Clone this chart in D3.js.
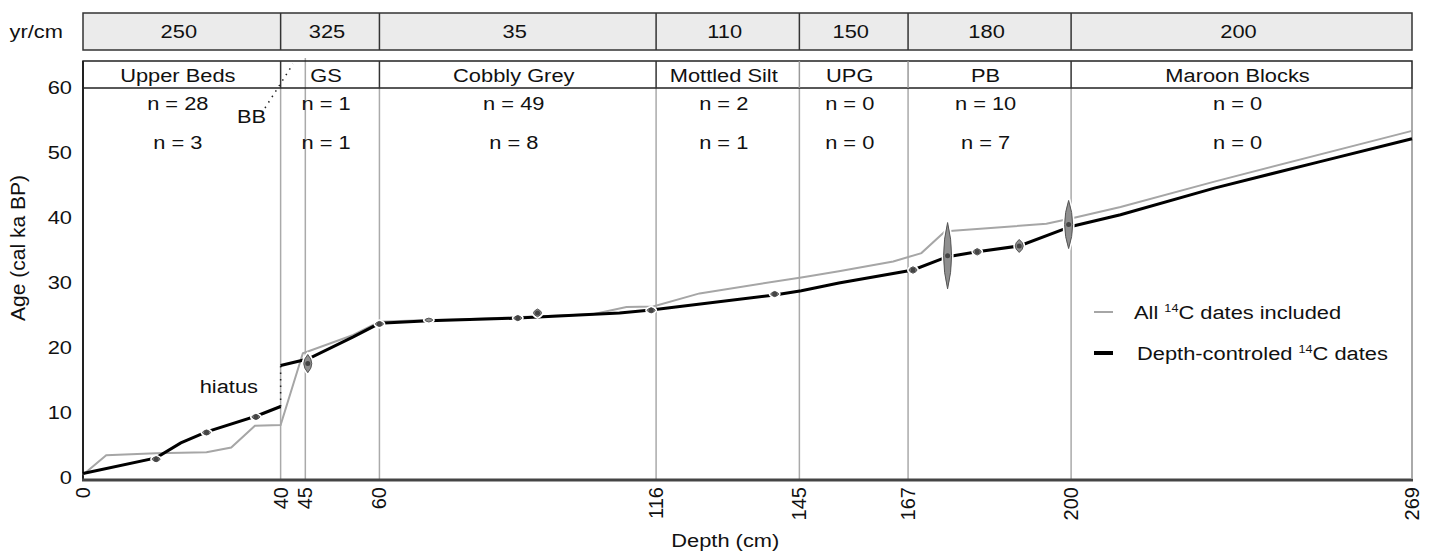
<!DOCTYPE html>
<html>
<head>
<meta charset="utf-8">
<script src="https://cdn.jsdelivr.net/npm/d3@7"></script>
<style>
body{margin:0;background:#fff}
text{font-family:"Liberation Sans",Arial,sans-serif;fill:#111}
</style>
</head>
<body>
<svg id="chart" width="1432" height="554"></svg>
<script>
// stratigraphic units (depth bounds in cm)
var bounds = [0, 40, 60, 116, 145, 167, 200, 269];
var rates = ["250", "325", "35", "110", "150", "180", "200"]; // yr/cm
var units = ["Upper Beds", "GS", "Cobbly Grey", "Mottled Silt", "UPG", "PB", "Maroon Blocks"];
var nAll = [28, 1, 49, 2, 0, 10, 0];
var nCtrl = [3, 1, 8, 1, 0, 7, 0];
var depthTicks = [0, 40, 45, 60, 116, 145, 167, 200, 269];
var gridDepths = [40, 45, 60, 116, 145, 167, 200];
var ageTicks = [0, 10, 20, 30, 40, 50, 60];

// age-depth model, all 14C dates (depth cm, age ka)
var allDepth = [0, 4.7, 14.8, 25, 30, 34.8, 40, 44.5, 54.7, 60, 70, 76, 103.2, 110, 115.4, 124.8, 145.7, 153, 164, 169.7, 174.4, 176.1, 195, 200.4, 210, 229, 269];
var allAge   = [0.5, 3.5, 3.8, 3.95, 4.7, 8.05, 8.15, 19.2, 22, 24.05, 24.3, 24.4, 25.2, 26.3, 26.4, 28.4, 30.9, 31.8, 33.3, 34.6, 37.9, 38.05, 39.1, 40, 41.7, 45.6, 53.4];
// depth-controlled model, above and below the hiatus
var upDepth = [0, 14.8, 19.8, 25, 35, 40];
var upAge   = [0.7, 3.1, 5.4, 7.1, 9.5, 11.0];
var lowDepth = [40, 45.5, 54.7, 60, 70, 88, 108.6, 115, 140, 145.4, 153, 168, 175, 181, 189.5, 200, 210, 229, 250, 269];
var lowAge   = [17.3, 18.3, 21.7, 23.8, 24.2, 24.6, 25.4, 25.85, 28.15, 28.8, 30.0, 32.0, 34.05, 34.8, 35.7, 38.7, 40.5, 44.6, 48.6, 52.2];
// calibrated dates (depth, median age, half range ka)
var dateDepth = [14.8, 25, 35, 45.5, 60, 70, 88, 92, 115, 140, 168, 175, 181, 189.5, 199.5];
var dateAge   = [2.9, 7.0, 9.4, 17.6, 23.7, 24.3, 24.6, 25.4, 25.8, 28.3, 32.0, 34.2, 34.8, 35.7, 39.0];
var dateErr   = [0.4, 0.4, 0.4, 1.4, 0.4, 0.3, 0.4, 0.6, 0.4, 0.4, 0.5, 5.1, 0.5, 1.0, 3.7];

var svg = d3.select("#chart");
var x = d3.scaleLinear().domain([0, 269]).range([83, 1412]);
var y = d3.scaleLinear().domain([0, 60]).range([478, 88]);
var fs = 19, sx = 1.15;

function label(g, px, py, str, anchor, size) {
  return g.append("text")
    .attr("transform", "translate(" + px + "," + py + ") scale(" + sx + ",1)")
    .attr("text-anchor", anchor || "middle")
    .style("font-size", (size || fs) + "px")
    .text(str);
}

var zones = d3.range(units.length).map(function(i) {
  return {a: bounds[i], b: bounds[i + 1], rate: rates[i], unit: units[i], n1: nAll[i], n2: nCtrl[i]};
});

// vertical grid lines
svg.append("g").selectAll("line").data(gridDepths).enter().append("line")
  .attr("x1", d => x(d)).attr("x2", d => x(d))
  .attr("y1", d => d == 45 ? 58 : y(60)).attr("y2", y(0) + 2)
  .attr("stroke", "#aaa").attr("stroke-width", 1.5);
svg.append("line").attr("x1", x(269)).attr("x2", x(269)).attr("y1", y(60)).attr("y2", y(0))
  .attr("stroke", "#aaa").attr("stroke-width", 2);

// yr/cm header
var top1 = 13, bot1 = 50, top2 = 61;
var hdr = svg.append("g");
hdr.append("rect").attr("x", x(0)).attr("y", top1).attr("width", x(269) - x(0)).attr("height", bot1 - top1)
  .attr("fill", "#ebebeb").attr("stroke", "#333").attr("stroke-width", 1.5);
hdr.selectAll("line.d1").data(bounds.slice(1, -1)).enter().append("line")
  .attr("x1", d => x(d)).attr("x2", d => x(d)).attr("y1", top1).attr("y2", bot1)
  .attr("stroke", "#333").attr("stroke-width", 1.5);
zones.forEach(function(z) { label(hdr, (x(z.a) + x(z.b)) / 2 - 3, 38, z.rate); });
label(hdr, 63, 38, "yr/cm", "end");

// unit header
hdr.append("rect").attr("x", x(0)).attr("y", top2).attr("width", x(269) - x(0)).attr("height", y(60) - top2)
  .attr("fill", "none").attr("stroke", "#222").attr("stroke-width", 1.5);
hdr.selectAll("line.d2").data(bounds.slice(1, -1)).enter().append("line")
  .attr("x1", d => x(d)).attr("x2", d => x(d)).attr("y1", top2).attr("y2", y(60))
  .attr("stroke", d => (d == 145 || d == 167) ? "#999" : "#333").attr("stroke-width", 1.5);
zones.forEach(function(z) {
  var cx = (x(z.a) + x(z.b)) / 2 - 4;
  label(hdr, cx, 82, z.unit);
  label(hdr, cx, 110, "n = " + z.n1);
  label(hdr, cx, 149, "n = " + z.n2);
});

// BB bed and hiatus markers
label(svg, 237, 123, "BB", "start");
svg.append("line").attr("x1", 265).attr("y1", 108).attr("x2", x(42.5)).attr("y2", top2 + 3)
  .attr("stroke", "#222").attr("stroke-width", 1.5).attr("stroke-dasharray", "1.5,5");
svg.append("line").attr("x1", x(40)).attr("x2", x(40)).attr("y1", y(11)).attr("y2", y(17.3))
  .attr("stroke", "#222").attr("stroke-width", 1.5).attr("stroke-dasharray", "1.5,5");
label(svg, 258, 393, "hiatus", "end");

// axes
svg.append("line").attr("x1", x(0)).attr("x2", x(0)).attr("y1", top2).attr("y2", y(0) + 2)
  .attr("stroke", "#222").attr("stroke-width", 2);
svg.append("line").attr("x1", x(0) - 1).attr("x2", x(269) + 1).attr("y1", y(0) + 2).attr("y2", y(0) + 2)
  .attr("stroke", "#444").attr("stroke-width", 3);
svg.append("g").selectAll("text").data(ageTicks).enter().append("text")
  .attr("transform", d => "translate(72," + (y(d) + 6) + ") scale(" + sx + ",1)")
  .attr("text-anchor", "end").style("font-size", fs + "px").text(d => d);
svg.append("g").selectAll("text").data(depthTicks).enter().append("text")
  .attr("transform", d => "translate(" + (x(d) + 7) + "," + (y(0) + 9) + ") rotate(-90)")
  .attr("text-anchor", "end").style("font-size", "20px").text(d => d);
label(svg, x(130), 547, "Depth (cm)");
svg.append("text").attr("transform", "translate(25,248) rotate(-90)")
  .attr("text-anchor", "middle").style("font-size", "21px").text("Age (cal ka BP)");

// model lines
var line = d3.line().x(d => x(d[0])).y(d => y(d[1]));
svg.append("path").datum(d3.zip(allDepth, allAge)).attr("d", line)
  .attr("fill", "none").attr("stroke", "#a6a6a6").attr("stroke-width", 2);
[d3.zip(upDepth, upAge), d3.zip(lowDepth, lowAge)].forEach(function(seg) {
  svg.append("path").datum(seg).attr("d", line)
    .attr("fill", "none").attr("stroke", "#000").attr("stroke-width", 3);
});

// calibrated date shapes
var dates = d3.zip(dateDepth, dateAge, dateErr);
function lens(d) {
  var cx = x(d[0]), cy = y(d[1]), t = y(d[1] + d[2]), b = y(d[1] - d[2]), w = 4;
  return "M" + cx + "," + t + "Q" + (cx + w * 2) + "," + cy + " " + cx + "," + b +
         "Q" + (cx - w * 2) + "," + cy + " " + cx + "," + t + "Z";
}
var dg = svg.append("g");
dg.selectAll("path.halo").data(dates).enter().append("path").attr("d", lens)
  .attr("fill", "#fff").attr("stroke", "#fff").attr("stroke-width", 4);
dg.selectAll("path.shape").data(dates).enter().append("path").attr("d", lens)
  .attr("fill", "#8f8f8f").attr("stroke", "#555").attr("stroke-width", 1);
dg.selectAll("circle").data(dates.filter(d => d[2] > 0.35)).enter().append("circle")
  .attr("cx", d => x(d[0])).attr("cy", d => y(d[1])).attr("r", 2.5).attr("fill", "#444");

// legend
var lg = svg.append("g");
lg.append("line").attr("x1", 1094).attr("x2", 1113).attr("y1", 312).attr("y2", 312)
  .attr("stroke", "#a6a6a6").attr("stroke-width", 2);
lg.append("line").attr("x1", 1094).attr("x2", 1113).attr("y1", 353).attr("y2", 353)
  .attr("stroke", "#000").attr("stroke-width", 4);
function legText(px, py, pre) {
  var t = label(lg, px, py, "", "start");
  t.append("tspan").text(pre);
  t.append("tspan").attr("dy", -7).style("font-size", "11px").text("14");
  t.append("tspan").attr("dy", 7).text("C dates" + (pre == "All " ? " included" : ""));
}
legText(1134, 319, "All ");
legText(1137, 360, "Depth-controled ");
</script>
</body>
</html>
